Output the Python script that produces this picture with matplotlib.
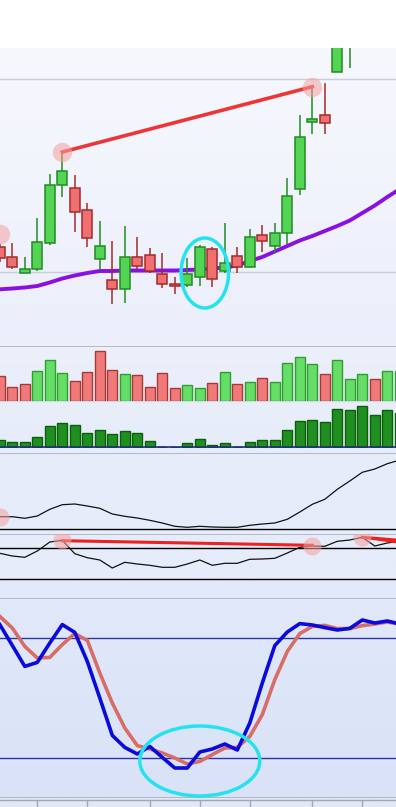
import matplotlib
matplotlib.use("Agg")
import matplotlib.pyplot as plt
import numpy as np
from matplotlib.patches import Ellipse
from matplotlib.colors import LinearSegmentedColormap

W, H = 396, 807

# ---------------- data ----------------
opens  = [103.3, 93, 77.3, 80.7, 106.7, 164.7, 161.7, 140, 90.7, 70, 60.7, 92.7, 94.7, 76.3, 65.7, 65,
          73.3, 100.7, 78.7, 94, 82.7, 115, 104, 116.7, 160.7, 227.7, 234.7, 278.3, 315, 322, 332, 326, 334]
closes = [91.7, 83, 80.7, 108, 165, 178.7, 137.7, 112.3, 104, 60.7, 92.7, 83.7, 79.3, 66, 63.7, 76.5,
          102.7, 70.7, 87.3, 82.7, 112.7, 108.7, 116.7, 153.7, 213.3, 231, 226.7, 310, 322, 330, 326, 334, 340]
highs  = [106, 107, 93.3, 132, 176, 198, 174.7, 146.7, 129, 108.7, 124, 113, 101.7, 96.7, 72.7, 92,
          105, 102.7, 127.3, 103.3, 121, 125, 126.7, 172.3, 235, 263.3, 266.7, 320, 330, 340, 342, 345, 350]
lows   = [88, 81, 76.7, 79, 105, 153.3, 118.3, 103.3, 80, 45.7, 46.7, 80, 76.7, 61.7, 55.7, 63,
          64, 63.3, 77.3, 77.3, 81.7, 98.3, 96.7, 105.7, 154.7, 215.7, 215.7, 277.7, 282.3, 305, 310, 318, 325]
ma     = [60.7, 61.5, 62.5, 64, 67.5, 71.5, 74.5, 77, 79, 79, 79.5, 79.5, 79.5, 79.5, 79.5, 80,
          80.5, 81.5, 82.5, 84.5, 89, 93, 98.5, 104, 109.5, 114, 119, 124, 129.5, 137, 144.5, 153, 161]
volume = [25, 13.7, 17, 29.7, 40.7, 27.7, 19.7, 28.7, 49.7, 30.7, 26.7, 25.7, 13.7, 27.7, 12.7, 15.7,
          12.7, 17.7, 28.7, 16.7, 18.7, 22.7, 18.7, 37.7, 43.7, 36.7, 26.7, 40.7, 21.7, 26.7, 21.7, 29.7, 29.7]
prev_close0 = 95
flow   = [7, 4.7, 4.7, 9.7, 20.7, 23.7, 21.7, 13.7, 16.7, 12.7, 15.7, 13.7, 5.7, 0.4, 0.4, 3.7,
          7.7, 1.7, 3.7, 0.4, 4.7, 6.7, 6.7, 16.7, 25.7, 26.7, 24.7, 37.7, 36.7, 40.7, 31.7, 36.7, 33.7]
ind1   = [12.6, 12.6, 11, 13.3, 20, 24.6, 25.3, 23.3, 21, 15.3, 13, 11.3, 9, 6.3, 3, 2,
          3, 2.3, 2, 2, 4, 5.3, 6.3, 10, 17.3, 25, 30, 40, 48.3, 57, 60.3, 65.6, 69.3]
ind2   = [26, 23.3, 22, 28.3, 37.3, 39, 25.6, 21.6, 19.3, 11.3, 17, 15.3, 14, 12, 12, 15.3,
          19.3, 14, 16, 16, 20, 20.3, 21, 26.3, 32, 33.3, 33, 38, 39.3, 42, 33.3, 36.3, 38.3]
stoch_k = [86.7, 76.3, 65.8, 67.8, 77.5, 86.7, 82.8, 68.3, 50, 31.3, 25.3, 22, 25.8, 20.3, 15, 15,
           23, 24.5, 27, 24, 37.5, 57.5, 76.2, 83, 87.2, 86.5, 85.2, 84, 84.8, 89, 87.5, 88.5, 87]
stoch_d = [90.8, 85, 75.8, 70, 70.3, 76.7, 82.2, 78.8, 62.5, 47.5, 35, 26.2, 24.5, 22.5, 20, 17,
           18.3, 21.7, 25, 25.3, 30.8, 41.7, 59.2, 73.3, 82.2, 85.8, 86.3, 84.7, 84.7, 86.2, 87, 88, 87]
tick_idx = [3, 7, 12, 16, 20, 25, 29]
trend_price = (5, 25)      # indices joined by the red line on highs
trend_ind2 = (5, 25)
trend_ind2b = (29, 32)
stoch_levels = (20, 80)

n = len(opens)
x = np.arange(n)
XL = (0.016, 31.696)

fig = plt.figure(figsize=(W / 100, H / 100), dpi=100)
fig.patch.set_facecolor("white")


def add_panel(top, bottom, c_top, c_bot):
    ax = fig.add_axes([0, 1 - bottom / H, 1, (bottom - top) / H])
    grad = np.linspace(0, 1, 64).reshape(-1, 1)
    cmap = LinearSegmentedColormap.from_list("g", [c_top, c_bot])
    ax.imshow(grad, cmap=cmap, aspect="auto", extent=[0, 1, 0, 1],
              transform=ax.transAxes, zorder=0, origin="upper")
    ax.set_xlim(*XL)
    ax.set_axis_off()
    return ax


# ---------------- price panel ----------------
axp = add_panel(48, 346, "#F7F8FE", "#EBEFFB")
axp.set_ylim(4, 302)
for g in (78, 271):
    axp.axhline(g, color="#C9CDD8", lw=1, zorder=1)
axp.plot(x, ma, color="#8A10E0", lw=2.8, zorder=2, solid_capstyle="round")
up = [c >= o for o, c in zip(opens, closes)]
for i in range(n):
    col = "#54D454" if up[i] else "#EE7070"
    edge = "#228B22" if up[i] else "#A52A2A"
    axp.vlines(x[i], lows[i], highs[i], color=edge, lw=1.1, zorder=3)
    lo, hi = min(opens[i], closes[i]), max(opens[i], closes[i])
    axp.bar(x[i], max(hi - lo, 1.2), bottom=lo, width=0.8, color=col,
            edgecolor=edge, lw=1.1, zorder=4)
a, b = trend_price
axp.plot([a, b], [highs[a], highs[b]], color="#EE3535", lw=2.6, zorder=5)
axp.plot([a, b, 0], [highs[a], highs[b], 116], "o", ms=14, color="#F4A0A0",
         alpha=0.55, zorder=5, mec="none")
axp.add_patch(Ellipse((16.4, 77), 3.8, 70, angle=0, fill=False,
                      ec="#24E3EE", lw=2.5, zorder=6))

# ---------------- volume panel ----------------
axv = add_panel(346, 401, "#ECF0FB", "#E8EDFA")
axv.set_ylim(0, 55)
prev = [prev_close0] + closes[:-1]
for i in range(n):
    upv = closes[i] >= prev[i]
    axv.bar(x[i], volume[i], width=0.8,
            color="#66DD66" if upv else "#F07A7A",
            edgecolor="#2E9E2E" if upv else "#A83838", lw=1.0, zorder=3)
axv.axhline(55, color="#A9AFBC", lw=1.2, zorder=4)

# ---------------- flow panel ----------------
axf = add_panel(401, 448, "#E9EEFA", "#E7ECFA")
axf.set_ylim(-1, 46)
axf.bar(x, flow, width=0.8, color="#1F8F1F", edgecolor="#0B5E0B", lw=1.0, zorder=3)
axf.axhline(0, color="#22307A", lw=1.2, zorder=4)
axf.axhline(46, color="#D5DBE8", lw=1.0, zorder=4)

axgap = add_panel(448, 453, "#E7ECFA", "#E7ECFA")

# ---------------- indicator 1 ----------------
axi1 = add_panel(453, 534, "#E6ECFA", "#E6ECFA")
axi1.set_ylim(-4.7, 76.3)
axi1.axhline(76.3, color="#A9AFBC", lw=1.2, zorder=2)
axi1.axhline(0, color="black", lw=1.0, zorder=2)
axi1.plot(x, ind1, color="#111111", lw=0.9, zorder=3)
axi1.plot([0], [ind1[0]], "o", ms=13, color="#F4A0A0", alpha=0.55, mec="none", zorder=4)

# ---------------- indicator 2 ----------------
axi2 = add_panel(534, 581, "#E6ECFA", "#E6ECFA")
axi2.set_ylim(-1.7, 45.3)
axi2.axhline(45.3, color="#A9AFBC", lw=1.2, zorder=2)
axi2.axhline(0, color="black", lw=1.0, zorder=2)
axi2.axhline(31, color="black", lw=1.0, zorder=2)
axi2.plot(x, ind2, color="#111111", lw=0.9, zorder=3)
a, b = trend_ind2
axi2.plot([a, b], [38.6, 34.0], color="#EE2020", lw=2.2, zorder=4)
c, d = trend_ind2b
axi2.plot([c, d], [ind2[c], 39.0], color="#EE2020", lw=2.2, zorder=4)
axi2.plot([c, d], [ind2[c], 36.5], color="#EE2020", lw=1.5, zorder=4)
axi2.plot([a, b, c], [ind2[a], ind2[b], ind2[c]], "o", ms=13, color="#F4A0A0",
          alpha=0.55, mec="none", zorder=5)

# gap
axg = add_panel(581, 598, "#E4EAFA", "#E2E9FA")

# ---------------- stochastic ----------------
axs = add_panel(598, 798, "#E1E8FA", "#D9E2F7")
axs.set_ylim(0, 100)
axs.axhline(100, color="#A9AFBC", lw=1.2, zorder=2)
axs.axhline(0, color="#A9AFBC", lw=1.2, zorder=2)
for lv in stoch_levels:
    axs.axhline(lv, color="#2A36A8", lw=1.0, zorder=2)
axs.plot(x, stoch_d, color="#D86D66", lw=2.6, zorder=3)
axs.plot(x, stoch_k, color="#0A0ADD", lw=2.6, zorder=4)
axs.add_patch(Ellipse((16.0, 18.5), 9.6, 35, angle=0, fill=False,
                      ec="#24E3EE", lw=2.5, zorder=6))

# ---------------- bottom axis band ----------------
axb = add_panel(798, 807, "#E2E8F6", "#E2E8F6")
axb.set_ylim(0, 1)
axb.axhline(0.78, color="#A0A6B4", lw=1.0)
axb.vlines(tick_idx, 0, 0.78, color="#A0A6B4", lw=1.0)

fig.savefig("out.png", dpi=100, facecolor="white")
